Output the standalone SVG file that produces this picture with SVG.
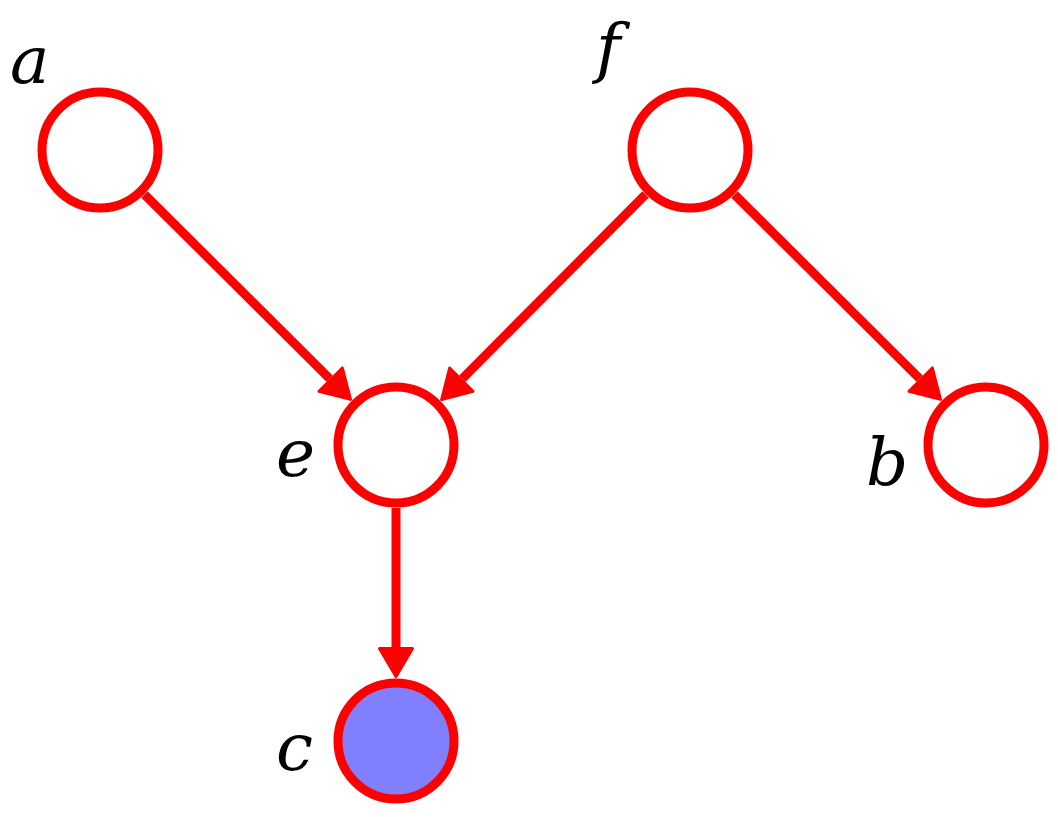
<svg xmlns="http://www.w3.org/2000/svg" width="1058" height="817" viewBox="0 0 1058 817">
<style>
.node{fill:#fff;stroke:#ff0000;stroke-width:9}
.edge{stroke:#ff0000;stroke-width:9;fill:none}
.lbl{fill:#000}
</style>
<defs>
<marker id="ah" markerUnits="userSpaceOnUse" markerWidth="40" markerHeight="40" viewBox="-2 -20 36 40" refX="0" refY="0" orient="auto" overflow="visible">
<path d="M1.5,-16.5 L29.5,0 L1.5,16.5 Z" fill="#ff0000" stroke="#ff0000" stroke-width="3" stroke-linejoin="round"/>
</marker>
</defs>
<rect width="1058" height="817" fill="#fff"/>
<g id="connectors">
<line class="edge" x1="144.5" y1="194.5" x2="329.6" y2="378.6" marker-end="url(#ah)"/>
<line class="edge" x1="645.5" y1="194.5" x2="462.4" y2="378.6" marker-end="url(#ah)"/>
<line class="edge" x1="734.5" y1="194.5" x2="919.6" y2="378.6" marker-end="url(#ah)"/>
<line class="edge" x1="396" y1="508" x2="396" y2="647" marker-end="url(#ah)"/>
</g>
<g font-family="'DejaVu Serif', serif" font-style="italic" font-size="66">
<g id="node-a"><circle class="node" cx="100" cy="150" r="58"/><text class="lbl" x="10" y="83">a</text></g>
<g id="node-f"><circle class="node" cx="690" cy="150" r="58"/><text class="lbl" x="596" y="70">f</text></g>
<g id="node-e"><circle class="node" cx="396" cy="445" r="58"/><text class="lbl" x="276" y="476">e</text></g>
<g id="node-b"><circle class="node" cx="986" cy="445" r="58"/><text class="lbl" x="866" y="485">b</text></g>
<g id="node-c"><circle class="node" cx="396" cy="741" r="58" style="fill:#8080ff"/><text class="lbl" x="276" y="770">c</text></g>
</g>
</svg>
